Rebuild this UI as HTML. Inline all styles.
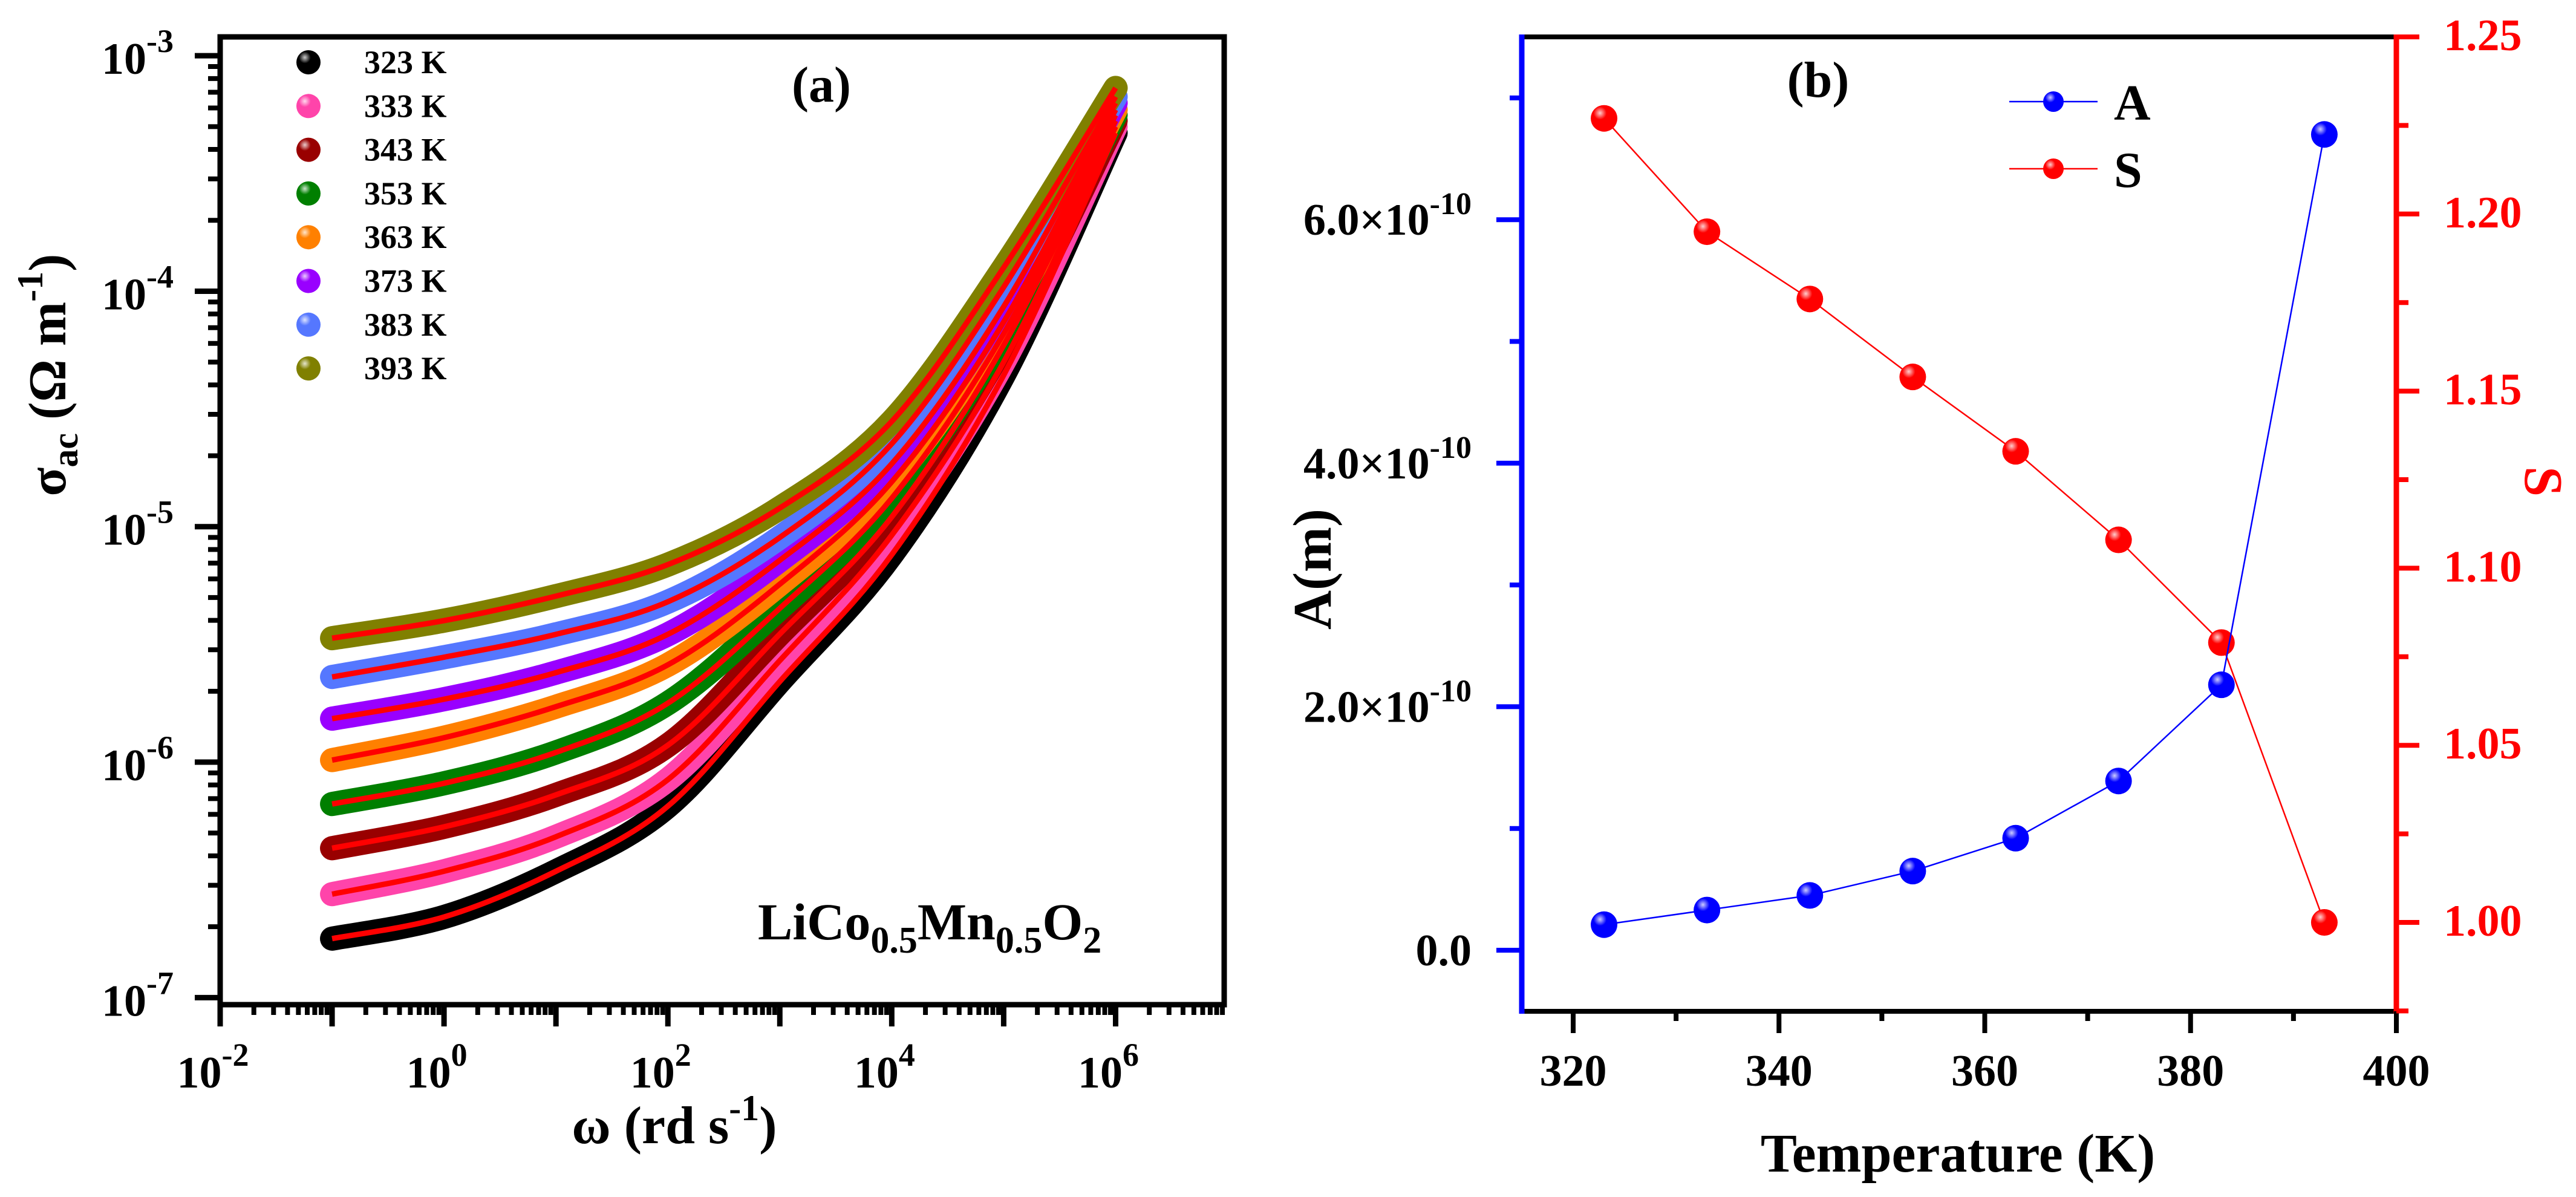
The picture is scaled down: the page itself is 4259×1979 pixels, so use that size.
<!DOCTYPE html>
<html><head><meta charset="utf-8">
<style>
html,body{margin:0;padding:0;background:#fff;}
svg{display:block;}
svg text{font-family:"Liberation Serif","Times New Roman",serif;font-weight:bold;}
</style></head>
<body>
<svg id="chart" width="4259" height="1979" viewBox="0 0 4259 1979" xmlns="http://www.w3.org/2000/svg" font-family="Liberation Serif, Times New Roman, serif" font-weight="bold">
<defs>
<radialGradient id="shine" cx="0.35" cy="0.3" r="0.7"><stop offset="0" stop-color="#fff" stop-opacity="0.8"/><stop offset="0.35" stop-color="#fff" stop-opacity="0"/></radialGradient>
</defs>
<g id="panelA"></g>
<g id="panelB"></g>
</svg>
<script>
// ---------- Panel (a) data ----------
const omegaA = [0.1, 1, 10, 100, 1e3, 1e4, 1e5, 1e6];
const tempLabelsA = ["323 K","333 K","343 K","353 K","363 K","373 K","383 K","393 K"];
const sigma323 = [1.78e-7, 2.20e-7, 3.44e-7, 6.50e-7, 2.20e-6, 7.6e-6, 4.4e-5, 4.7e-4];
const sigma333 = [2.75e-7, 3.44e-7, 4.82e-7, 8.43e-7, 2.70e-6, 9.2e-6, 5.0e-5, 5.0e-4];
const sigma343 = [4.31e-7, 5.31e-7, 7.26e-7, 1.18e-6, 3.50e-6, 1.10e-5, 5.9e-5, 5.3e-4];
const sigma353 = [6.64e-7, 8.13e-7, 1.10e-6, 1.78e-6, 4.50e-6, 1.32e-5, 6.6e-5, 5.6e-4];
const sigma363 = [1.02e-6, 1.27e-6, 1.72e-6, 2.59e-6, 5.70e-6, 1.55e-5, 7.4e-5, 5.9e-4];
const sigma373 = [1.53e-6, 1.85e-6, 2.40e-6, 3.49e-6, 7.20e-6, 1.85e-5, 8.6e-5, 6.3e-4];
const sigma383 = [2.30e-6, 2.79e-6, 3.49e-6, 4.80e-6, 9.00e-6, 2.25e-5, 1.04e-4, 6.7e-4];
const sigma393 = [3.36e-6, 3.99e-6, 5.07e-6, 6.90e-6, 1.20e-5, 2.80e-5, 1.26e-4, 7.3e-4];
const xTickExpA = [-2, 0, 2, 4, 6];
const yTickExpA = [-7, -6, -5, -4, -3];

// ---------- Panel (b) data ----------
const tempsB = [323, 333, 343, 353, 363, 373, 383, 393];
const valuesA = [0.21e-10, 0.33e-10, 0.45e-10, 0.65e-10, 0.92e-10, 1.39e-10, 2.18e-10, 6.70e-10];
const valuesS = [1.227, 1.195, 1.176, 1.154, 1.133, 1.108, 1.079, 1.000];
const xTicksB = [320, 340, 360, 380, 400];
const yTicksBLeft = [0, 2e-10, 4e-10, 6e-10];
const yTicksBLeftLabels = ["0.0", "2.0", "4.0", "6.0"];
const yTicksBRight = [1.00, 1.05, 1.10, 1.15, 1.20, 1.25];

const NS = "http://www.w3.org/2000/svg";
function mk(parent, tag, attrs, text) {
  const e = document.createElementNS(NS, tag);
  for (const k in attrs) e.setAttribute(k, attrs[k]);
  if (text !== undefined) e.textContent = text;
  parent.appendChild(e);
  return e;
}
function smoothPath(pts) {
  let d = "M" + pts[0][0] + "," + pts[0][1];
  for (let i = 0; i < pts.length - 1; i++) {
    const p0 = pts[Math.max(0, i - 1)], p1 = pts[i], p2 = pts[i + 1], p3 = pts[Math.min(pts.length - 1, i + 2)];
    const c1x = p1[0] + (p2[0] - p0[0]) / 6, c1y = p1[1] + (p2[1] - p0[1]) / 6;
    const c2x = p2[0] - (p3[0] - p1[0]) / 6, c2y = p2[1] - (p3[1] - p1[1]) / 6;
    d += " C" + c1x + "," + c1y + " " + c2x + "," + c2y + " " + p2[0] + "," + p2[1];
  }
  return d;
}

// ================= PANEL A =================
const A = document.getElementById("panelA");
const aL = 364, aR = 2024, aT = 61, aB = 1661;
const axMin = -2, axMax = 6.97, ayMin = -7.03, ayMax = -2.92;
const xA = v => aL + (Math.log10(v) - axMin) / (axMax - axMin) * (aR - aL);
const xAe = e => aL + (e - axMin) / (axMax - axMin) * (aR - aL);
const yA = v => aB - (Math.log10(v) - ayMin) / (ayMax - ayMin) * (aB - aT);
const yAe = e => aB - (e - ayMin) / (ayMax - ayMin) * (aB - aT);

const seriesA = [sigma323, sigma333, sigma343, sigma353, sigma363, sigma373, sigma383, sigma393];
const colorsA = ["#000000", "#ff44aa", "#990000", "#007f00", "#ff8000", "#9900ff", "#5577ff", "#808000"];
const namesA = ["323", "333", "343", "353", "363", "373", "383", "393"];

const dataG = mk(A, "g", {});


seriesA.forEach((s, i) => {
  const pts = s.map((v, j) => [xA(omegaA[j]), yA(v)]);
  const p = mk(dataG, "path", {d: smoothPath(pts), fill: "none", stroke: colorsA[i], "stroke-width": 40, "stroke-linecap": "round", "stroke-linejoin": "round"});
  
  
});
seriesA.forEach((s, i) => {
  const pts = s.map((v, j) => [xA(omegaA[j]), yA(v)]);
  const p = mk(dataG, "path", {d: smoothPath(pts), fill: "none", stroke: "#ff0000", "stroke-width": 9, "stroke-linejoin": "round"});
  
  
});

const frA = mk(A, "rect", {x: aL, y: aT, width: aR - aL, height: aB - aT, fill: "none", stroke: "#000", "stroke-width": 9});



for (let e = -2; e <= 6; e++) {
  const x = xAe(e);
  mk(A, "line", {x1: x, y1: aB, x2: x, y2: aB + 36, stroke: "#000", "stroke-width": 9});
  for (let m = 2; m <= 9; m++) {
    const xm = xAe(e + Math.log10(m));
    if (xm > aR) break;
    mk(A, "line", {x1: xm, y1: aB, x2: xm, y2: aB + 17, stroke: "#000", "stroke-width": 8});
  }
}
xTickExpA.forEach(e => {
  const t = mk(A, "text", {x: xAe(e) - 12, y: 1798, "font-size": 74, "text-anchor": "middle"});
  
  
  t.innerHTML = '10<tspan dy="-36" font-size="54">' + e + '</tspan>';
});
for (let e = -7; e <= -3; e++) {
  const y = yAe(e);
  mk(A, "line", {x1: aL - 42, y1: y, x2: aL, y2: y, stroke: "#000", "stroke-width": 9});
  for (let m = 2; m <= 9; m++) {
    const ym = yAe(e + Math.log10(m));
    if (ym < aT) break;
    mk(A, "line", {x1: aL - 20, y1: ym, x2: aL, y2: ym, stroke: "#000", "stroke-width": 8});
  }
}
yTickExpA.forEach(e => {
  const t = mk(A, "text", {x: 287, y: yAe(e) + 30, "font-size": 74, "text-anchor": "end"});
  
  
  t.innerHTML = '10<tspan dy="-36" font-size="54">' + e + '</tspan>';
});
const xtA = mk(A, "text", {x: 1115, y: 1890, "font-size": 88, "text-anchor": "middle"});


xtA.innerHTML = 'ω (rd s<tspan dy="-38" font-size="60">-1</tspan><tspan dy="38">)</tspan>';
const ytA = mk(A, "text", {x: 0, y: 0, "font-size": 88, "text-anchor": "middle", transform: "translate(108,620) rotate(-90)"});


ytA.innerHTML = 'σ<tspan dy="20" font-size="60">ac</tspan><tspan dy="-20"> (Ω m</tspan><tspan dy="-38" font-size="60">-1</tspan><tspan dy="38">)</tspan>';
const lblA = mk(A, "text", {x: 1358, y: 168, "font-size": 84, "text-anchor": "middle"}, "(a)");


const comp = mk(A, "text", {x: 1253, y: 1553, "font-size": 86});


comp.innerHTML = 'LiCo<tspan dy="22" font-size="62">0.5</tspan><tspan dy="-22">Mn</tspan><tspan dy="22" font-size="62">0.5</tspan><tspan dy="-22">O</tspan><tspan dy="22" font-size="62">2</tspan>';
const legA = mk(A, "g", {});


tempLabelsA.forEach((lab, i) => {
  const y = 103 + i * 72.3;
  const c = mk(legA, "circle", {cx: 510, cy: y, r: 20, fill: colorsA[i]});
  
  
  mk(legA, "circle", {cx: 510, cy: y, r: 20, fill: "url(#shine)"});
  const t = mk(legA, "text", {x: 602, y: y + 18, "font-size": 54}, lab);
  
  
});

// ================= PANEL B =================
const B = document.getElementById("panelB");
const bL = 2516, bR = 3962, bT = 61, bB = 1672;
const xB = t => 2601 + (t - 320) / 80 * (3962 - 2601);
const yBL = v => 1571 - v / 1e-10 * 201.3;
const yBR = s => 1525 - (s - 1.00) / 0.25 * (1525 - 61);

function drawSeries(vals, yf, color, name) {
  const g = mk(B, "g", {});
  
  
  const pts = vals.map((v, i) => xB(tempsB[i]) + "," + yf(v)).join(" ");
  mk(g, "polyline", {points: pts, fill: "none", stroke: color, "stroke-width": 2.5});
  vals.forEach((v, i) => {
    const c = mk(g, "circle", {cx: xB(tempsB[i]), cy: yf(v), r: 22, fill: color});
    
    
    mk(g, "circle", {cx: xB(tempsB[i]), cy: yf(v), r: 22, fill: "url(#shine)"});
  });
}
drawSeries(valuesS, yBR, "#ff0000", "s");
drawSeries(valuesA, yBL, "#0000ff", "a");

mk(B, "line", {x1: bL, y1: bT, x2: bR, y2: bT, stroke: "#000", "stroke-width": 8});
const bax = mk(B, "line", {x1: bL, y1: bB, x2: bR, y2: bB, stroke: "#000", "stroke-width": 8});


const lax = mk(B, "line", {x1: bL, y1: bT - 4, x2: bL, y2: bB + 4, stroke: "#0000ff", "stroke-width": 9});


const rax = mk(B, "line", {x1: bR, y1: bT - 4, x2: bR, y2: bB + 4, stroke: "#ff0000", "stroke-width": 9});



for (let t = 320; t <= 400; t += 10) {
  const maj = t % 20 === 0;
  mk(B, "line", {x1: xB(t), y1: bB, x2: xB(t), y2: bB + (maj ? 36 : 16), stroke: "#000", "stroke-width": 8});
}
xTicksB.forEach(t => {
  const e = mk(B, "text", {x: xB(t), y: 1795, "font-size": 74, "text-anchor": "middle"}, String(t));
  
  
});
for (let k = 0; k <= 7; k++) {
  const y = yBL(k * 1e-10);
  mk(B, "line", {x1: bL - (k % 2 === 0 ? 42 : 20), y1: y, x2: bL, y2: y, stroke: "#0000ff", "stroke-width": 8});
}
yTicksBLeft.forEach((v, i) => {
  const e = mk(B, "text", {x: 2433, y: yBL(v) + 25, "font-size": 74, "text-anchor": "end"});
  
  
  e.innerHTML = v === 0 ? yTicksBLeftLabels[i] : yTicksBLeftLabels[i] + '×10<tspan dy="-34" font-size="52">-10</tspan>';
});
for (let k = 0; k <= 11; k++) {
  const s = 0.975 + k * 0.025;
  const maj = k % 2 === 1;
  mk(B, "line", {x1: bR, y1: yBR(s), x2: bR + (maj ? 38 : 20), y2: yBR(s), stroke: "#ff0000", "stroke-width": 8});
}
yTicksBRight.forEach(s => {
  const e = mk(B, "text", {x: 4040, y: yBR(s) + 22, "font-size": 74, fill: "#ff0000"}, s.toFixed(2));
  
  
});
const xtB = mk(B, "text", {x: 3237, y: 1937, "font-size": 90, "text-anchor": "middle"}, "Temperature (K)");


const ytB = mk(B, "text", {x: 0, y: 0, "font-size": 90, "text-anchor": "middle", transform: "translate(2200,941) rotate(-90)"}, "A(m)");


const ytS = mk(B, "text", {x: 0, y: 0, "font-size": 90, "text-anchor": "middle", fill: "#ff0000", transform: "translate(4175,796) rotate(90)"}, "S");


const lblB = mk(B, "text", {x: 3006, y: 160, "font-size": 84, "text-anchor": "middle"}, "(b)");


[["A", "#0000ff", 168], ["S", "#ff0000", 279]].forEach(([n, c, y]) => {
  const g = mk(B, "g", {});
  
  
  mk(g, "line", {x1: 3322, y1: y, x2: 3468, y2: y, stroke: c, "stroke-width": 2.5});
  mk(g, "circle", {cx: 3395, cy: y, r: 17, fill: c});
  mk(g, "circle", {cx: 3395, cy: y, r: 17, fill: "url(#shine)"});
  mk(g, "text", {x: 3495, y: y + 30, "font-size": 84}, n);
});
</script>
</body></html>
